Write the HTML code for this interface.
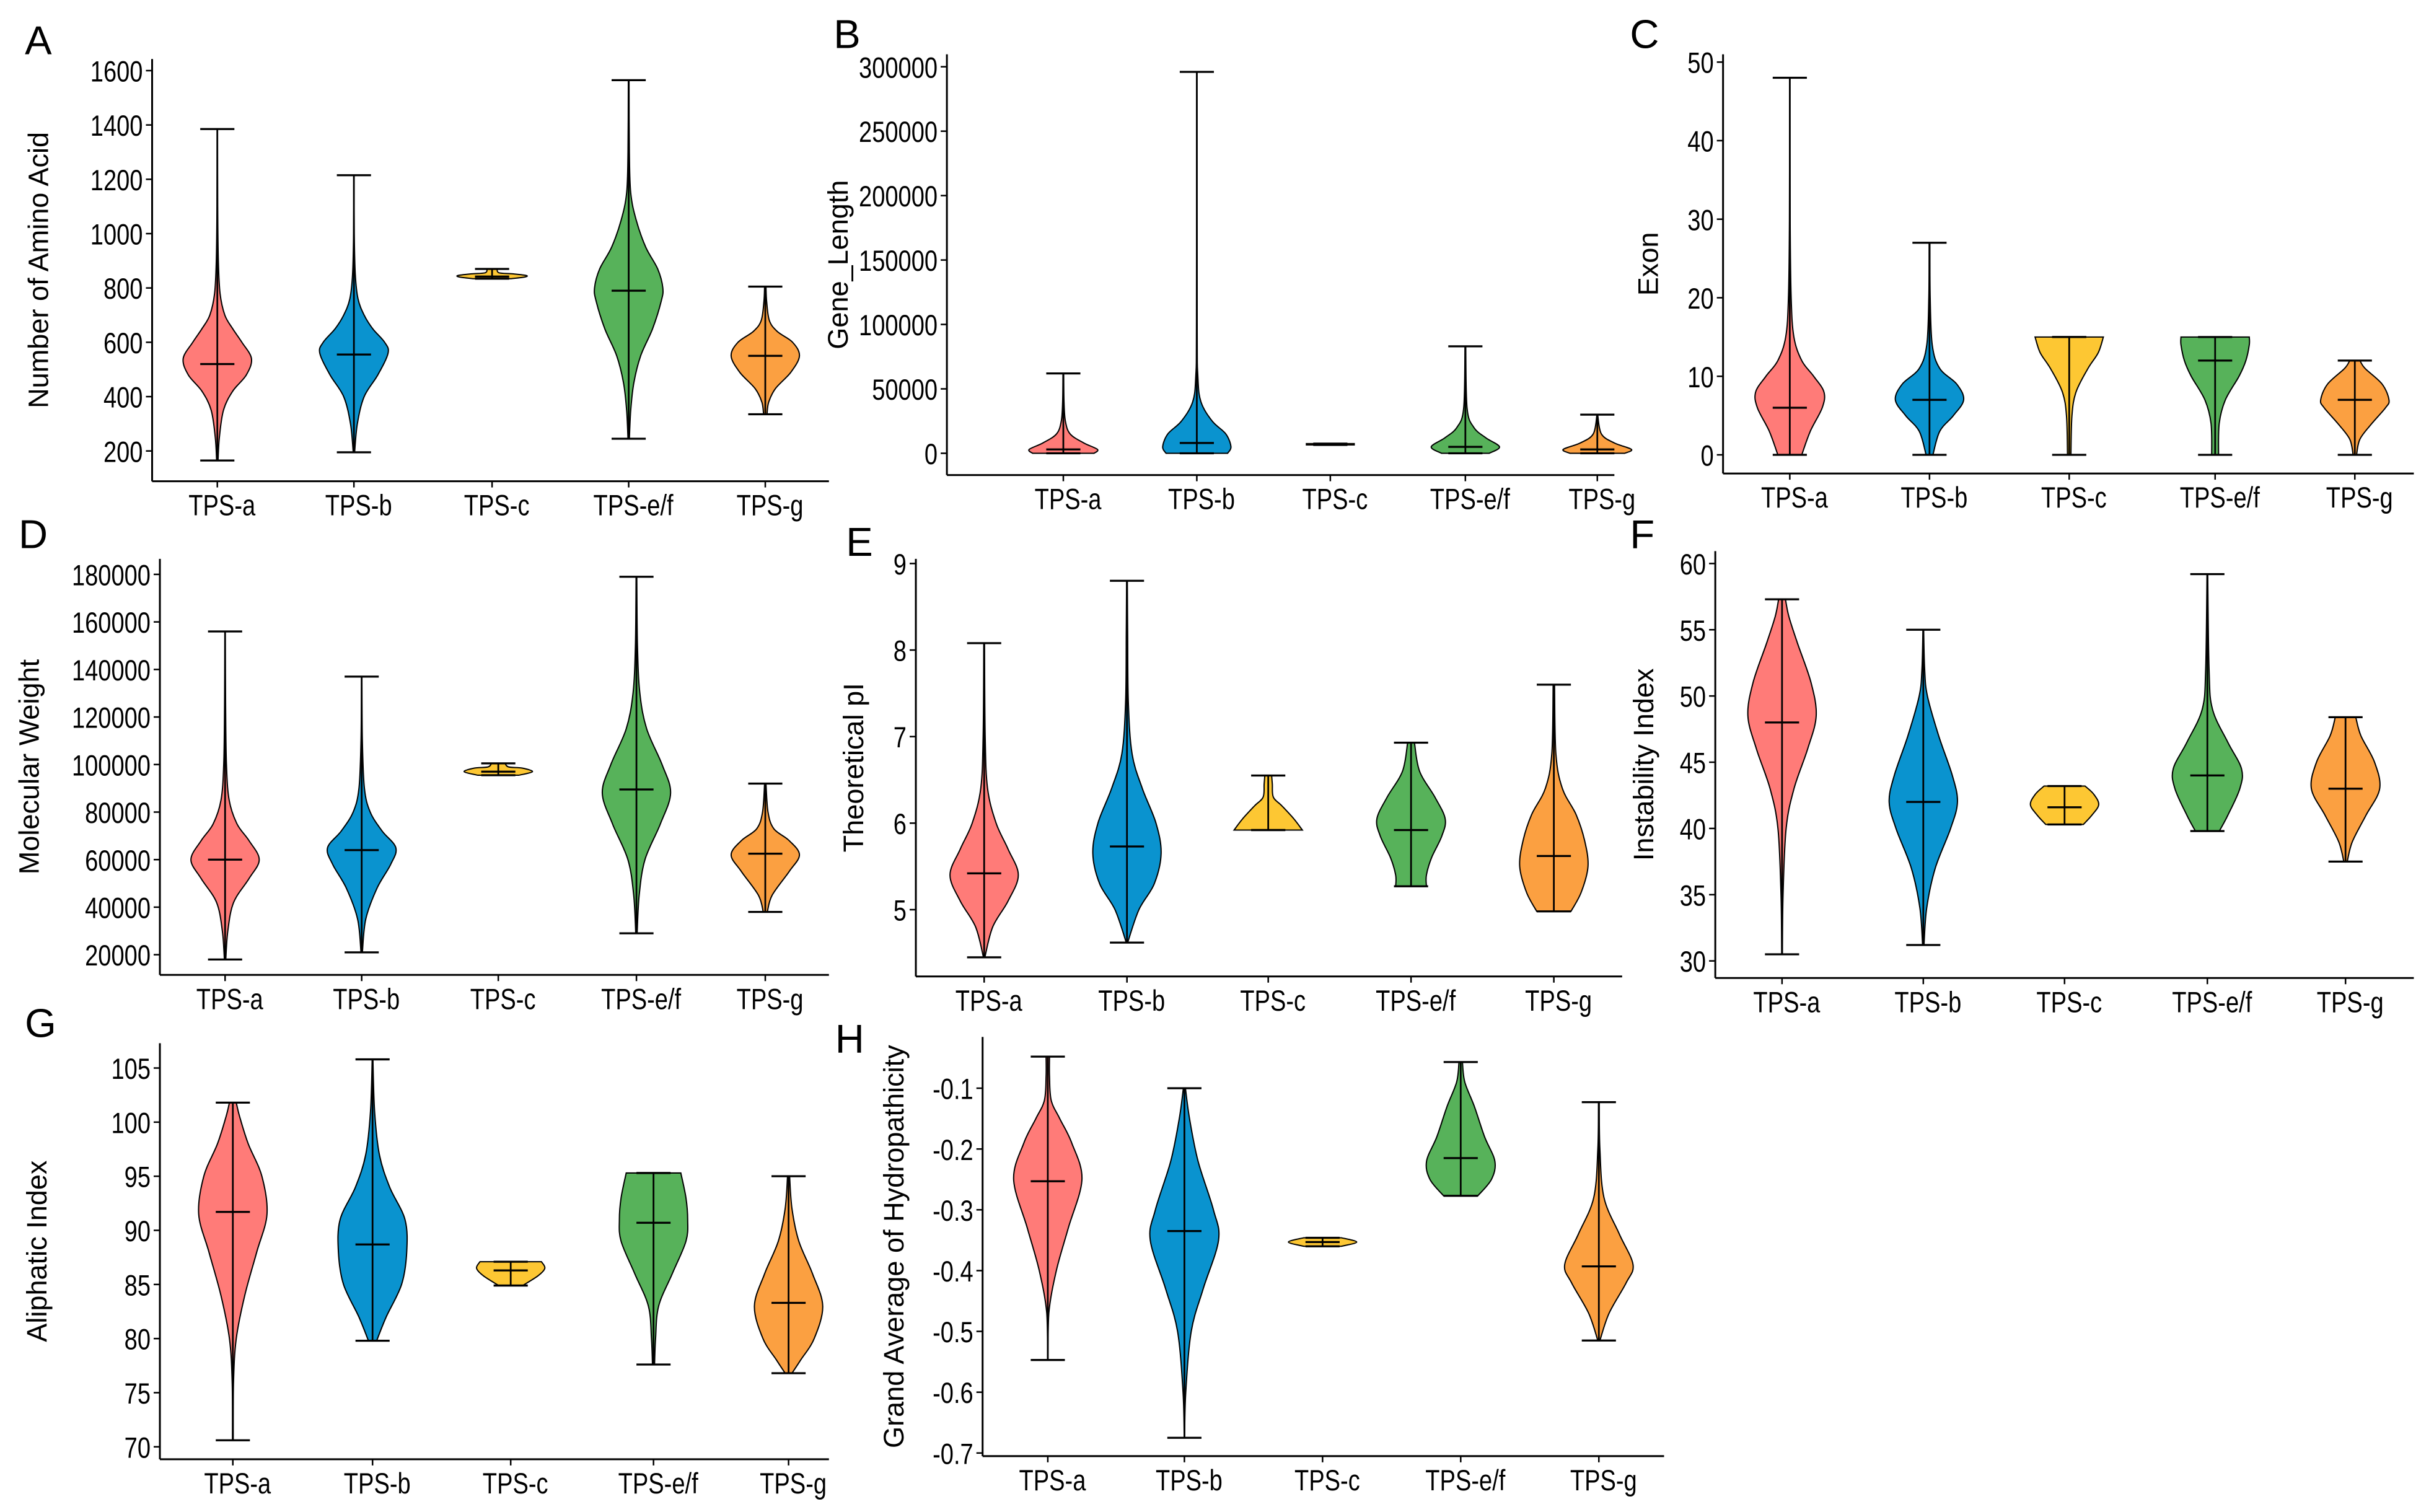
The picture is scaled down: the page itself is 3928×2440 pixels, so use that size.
<!DOCTYPE html>
<html><head><meta charset="utf-8"><style>
html,body{margin:0;padding:0;background:#fff}
svg{display:block}
text{font-family:"Liberation Sans",Arial,sans-serif;fill:#000}
</style></head><body>
<svg id="fig" width="3928" height="2440" viewBox="0 0 1568 974" preserveAspectRatio="none" xmlns="http://www.w3.org/2000/svg"></svg>
<script>
const categories = ["TPS-a","TPS-b","TPS-c","TPS-e/f","TPS-g"];
const colors = ["#FF7B78","#0A93CF","#FDC733","#57B25A","#FBA041"];

// A: Number of Amino Acid
const ticksA = [200,400,600,800,1000,1200,1400,1600];
const mediansA = [520,555,842,790,550];
const rangesA = [[165,1385],[195,1215],[834,870],[245,1565],[335,805]];
const densA = [
 [[165,0.02],[250,0.06],[350,0.18],[420,0.45],[480,0.85],[540,1],[600,0.72],[650,0.45],[700,0.22],[780,0.08],[900,0.03],[1100,0.01],[1385,0.005]],
 [[195,0.02],[300,0.1],[400,0.3],[480,0.7],[560,1],[600,0.9],[650,0.55],[700,0.3],[760,0.12],[850,0.04],[1000,0.01],[1215,0.005]],
 [[834,0.55],[840,0.95],[846,1],[852,0.6],[856,0.2],[870,0.15]],
 [[245,0.02],[350,0.06],[450,0.15],[550,0.35],[650,0.7],[750,0.95],[800,1],[870,0.85],[950,0.5],[1050,0.22],[1150,0.06],[1300,0.02],[1565,0.01]],
 [[335,0.05],[380,0.1],[430,0.3],[490,0.75],[550,1],[600,0.8],[640,0.35],[680,0.12],[750,0.04],[805,0.02]]
];
// B: Gene_Length
const ticksB = [0,50000,100000,150000,200000,250000,300000];
const mediansB = [3000,8000,7000,5000,3000];
const rangesB = [[0,62000],[0,296000],[6500,7500],[0,83000],[0,30000]];
const densB = [
 [[0,0.9],[3000,1],[8000,0.6],[15000,0.2],[25000,0.06],[40000,0.02],[62000,0.01]],
 [[0,0.9],[5000,1],[15000,0.85],[25000,0.45],[40000,0.12],[60000,0.03],[100000,0.01],[296000,0.005]],
 [[6500,0.7],[7500,0.7]],
 [[0,0.7],[5000,1],[12000,0.6],[20000,0.25],[35000,0.05],[83000,0.01]],
 [[0,0.8],[3000,1],[8000,0.5],[15000,0.12],[30000,0.01]]
];
// C: Exon
const ticksC = [0,10,20,30,40,50];
const mediansC = [6,7,15,12,7];
const rangesC = [[0,48],[0,27],[0,15],[0,15],[0,12]];
const densC = [
 [[0,0.35],[3,0.6],[6,0.95],[8,1],[10,0.7],[12,0.35],[15,0.12],[20,0.04],[30,0.01],[48,0.005]],
 [[0,0.1],[3,0.3],[5,0.7],[7,1],[9,0.8],[11,0.3],[14,0.08],[20,0.02],[27,0.01]],
 [[0,0.05],[5,0.08],[8,0.2],[11,0.55],[13,0.85],[15,1]],
 [[0,0.1],[4,0.12],[7,0.3],[10,0.7],[12,0.9],[14,1],[15,1]],
 [[0,0.05],[2,0.15],[4,0.5],[6,0.9],[7,1],[9,0.8],[11,0.3],[12,0.15]]
];
// D: Molecular Weight
const ticksD = [20000,40000,60000,80000,100000,120000,140000,160000,180000];
const mediansD = [60000,64000,97000,89500,62500];
const rangesD = [[18000,156000],[21000,137000],[95500,100500],[29000,179000],[38000,92000]];
const densD = [
 [[18000,0.02],[30000,0.08],[42000,0.25],[52000,0.7],[60000,1],[68000,0.7],[75000,0.35],[85000,0.12],[100000,0.04],[125000,0.015],[156000,0.005]],
 [[21000,0.02],[35000,0.12],[48000,0.45],[58000,0.85],[65000,1],[72000,0.6],[80000,0.25],[90000,0.08],[110000,0.02],[137000,0.005]],
 [[95500,0.6],[97000,1],[98500,0.7],[99000,0.3],[100500,0.2]],
 [[29000,0.02],[45000,0.08],[60000,0.25],[75000,0.7],[88000,1],[100000,0.75],[115000,0.3],[130000,0.1],[150000,0.03],[179000,0.01]],
 [[38000,0.06],[45000,0.2],[55000,0.7],[62000,1],[68000,0.7],[73000,0.25],[80000,0.08],[92000,0.02]]
];
// E: Theoretical pI
const ticksE = [5,6,7,8,9];
const mediansE = [5.42,5.73,5.92,5.92,5.62];
const rangesE = [[4.45,8.08],[4.62,8.8],[5.92,6.55],[5.27,6.93],[4.98,7.6]];
const densE = [
 [[4.45,0.02],[4.8,0.25],[5.1,0.7],[5.4,1],[5.7,0.7],[6.0,0.35],[6.4,0.1],[7,0.03],[8.08,0.01]],
 [[4.62,0.02],[5,0.35],[5.3,0.8],[5.65,1],[6,0.85],[6.4,0.45],[6.8,0.15],[7.4,0.04],[8.2,0.02],[8.8,0.01]],
 [[5.92,1],[6.05,0.75],[6.2,0.4],[6.3,0.15],[6.45,0.12],[6.55,0.1]],
 [[5.27,0.45],[5.4,0.45],[5.6,0.6],[5.85,0.9],[6.05,1],[6.3,0.7],[6.6,0.25],[6.93,0.1]],
 [[4.98,0.5],[5.2,0.8],[5.5,1],[5.8,0.9],[6.1,0.65],[6.4,0.25],[6.8,0.06],[7.6,0.02]]
];
// F: Instability Index
const ticksF = [30,35,40,45,50,55,60];
const mediansF = [48,42,41.6,44,43];
const rangesF = [[30.5,57.3],[31.2,55],[40.3,43.2],[39.8,59.2],[37.5,48.4]];
const densF = [
 [[30.5,0.01],[35,0.03],[40,0.12],[43,0.35],[46,0.75],[48.5,1],[51,0.85],[54,0.45],[56,0.2],[57.3,0.1]],
 [[31.2,0.02],[34,0.1],[37,0.35],[40,0.8],[42,1],[44,0.85],[47,0.45],[50,0.12],[52,0.04],[55,0.01]],
 [[40.3,0.55],[41,0.8],[41.8,1],[42.6,0.85],[43.2,0.6]],
 [[39.8,0.35],[41,0.6],[43,0.95],[44.5,1],[46.5,0.6],[49,0.15],[52,0.05],[59.2,0.01]],
 [[37.5,0.05],[39,0.2],[41,0.6],[43,1],[45,0.85],[47,0.45],[48.4,0.3]]
];
// G: Aliphatic Index
const ticksG = [70,75,80,85,90,95,100,105];
const mediansG = [91.7,88.7,86.3,90.7,83.3];
const rangesG = [[70.6,101.8],[79.8,105.8],[84.9,87.1],[77.6,95.3],[76.8,95]];
const densG = [
 [[70.6,0.01],[76,0.02],[80,0.1],[84,0.35],[88,0.7],[91.5,1],[95,0.85],[98,0.45],[100.5,0.2],[101.8,0.1]],
 [[79.8,0.12],[82,0.4],[85,0.85],[88,1],[91,0.95],[94,0.5],[97,0.2],[101,0.06],[105.8,0.01]],
 [[84.9,0.35],[85.8,0.8],[86.5,1],[87.1,0.9]],
 [[77.6,0.03],[80,0.06],[83,0.15],[86,0.55],[89,0.95],[91,1],[93,0.95],[95.3,0.8]],
 [[76.8,0.1],[78,0.35],[80,0.75],[83,1],[86,0.7],[89,0.3],[92,0.1],[95,0.03]]
];
// H: Grand Average of Hydropathicity
const ticksH = [-0.7,-0.6,-0.5,-0.4,-0.3,-0.2,-0.1];
const mediansH = [-0.253,-0.335,-0.353,-0.215,-0.393];
const rangesH = [[-0.547,-0.048],[-0.675,-0.1],[-0.36,-0.346],[-0.277,-0.057],[-0.515,-0.123]];
const densH = [
 [[-0.547,0.005],[-0.47,0.03],[-0.4,0.25],[-0.33,0.6],[-0.25,1],[-0.19,0.7],[-0.15,0.35],[-0.12,0.1],[-0.08,0.05],[-0.048,0.05]],
 [[-0.675,0.005],[-0.6,0.04],[-0.5,0.2],[-0.43,0.55],[-0.35,1],[-0.3,0.85],[-0.22,0.4],[-0.15,0.15],[-0.1,0.03]],
 [[-0.36,0.55],[-0.353,1],[-0.346,0.55]],
 [[-0.277,0.5],[-0.25,0.9],[-0.22,1],[-0.18,0.7],[-0.13,0.4],[-0.09,0.12],[-0.057,0.05]],
 [[-0.515,0.03],[-0.47,0.3],[-0.42,0.8],[-0.39,1],[-0.34,0.6],[-0.28,0.15],[-0.2,0.03],[-0.123,0.01]]
];

const NS = "http://www.w3.org/2000/svg";
const svg = document.getElementById("fig");
function mk(tag, attrs, parent){const e=document.createElementNS(NS,tag);for(const k in attrs)e.setAttribute(k,attrs[k]);(parent||svg).appendChild(e);return e;}

const panels = [
 {id:"a",letter:"A",lx:16,ly:35,ax:98,top:38,bot:310,right:534,v0:200,p0:290.5,v1:1600,p1:45.5,cx:[140,228,317,405,493],title:"Number of Amino Acid",tx:31,ticks:ticksA,med:mediansA,rng:rangesA,den:densA},
 {id:"b",letter:"B",lx:537,ly:31,ax:610,top:35,bot:306,right:1040,v0:0,p0:292,v1:300000,p1:43,cx:[685,771,857,944,1029],title:"Gene_Length",tx:546,ticks:ticksB,med:mediansB,rng:rangesB,den:densB},
 {id:"c",letter:"C",lx:1050,ly:31,ax:1110,top:35,bot:305,right:1555,v0:0,p0:293,v1:50,p1:40,cx:[1153,1243,1333,1427,1517],title:"Exon",tx:1068,ticks:ticksC,med:mediansC,rng:rangesC,den:densC},
 {id:"d",letter:"D",lx:12,ly:353,ax:103,top:360,bot:628,right:534,v0:20000,p0:615,v1:180000,p1:370,cx:[145,233,321,410,493],title:"Molecular Weight",tx:25,ticks:ticksD,med:mediansD,rng:rangesD,den:densD},
 {id:"e",letter:"E",lx:545,ly:358,ax:590,top:360,bot:629,right:1045,v0:5,p0:586,v1:9,p1:363,cx:[634,726,817,909,1001],title:"Theoretical pI",tx:556,ticks:ticksE,med:mediansE,rng:rangesE,den:densE},
 {id:"f",letter:"F",lx:1050,ly:353,ax:1105,top:355,bot:630,right:1555,v0:30,p0:619,v1:60,p1:363,cx:[1148,1239,1330,1422,1511],title:"Instability Index",tx:1065,ticks:ticksF,med:mediansF,rng:rangesF,den:densF},
 {id:"g",letter:"G",lx:16,ly:668,ax:103,top:672,bot:940,right:534,v0:70,p0:932,v1:105,p1:688,cx:[150,240,329,421,508],title:"Aliphatic Index",tx:30,ticks:ticksG,med:mediansG,rng:rangesG,den:densG},
 {id:"h",letter:"H",lx:538,ly:678,ax:633,top:668,bot:938,right:1072,v0:-0.7,p0:936,v1:-0.1,p1:701,cx:[675,763,852,941,1030],title:"Grand Average of Hydropathicity",tx:582,ticks:ticksH,med:mediansH,rng:rangesH,den:densH}
];

const HALF = 22, CAP = 11, SX = 0.8;

panels.forEach(P=>{
  const y = v => P.p0 + (v-P.v0)*(P.p1-P.p0)/(P.v1-P.v0);
  const g = mk("g",{});
  
  
  const L = mk("text",{x:P.lx,y:P.ly,"font-size":26},g); L.textContent=P.letter;
  
  
  const ya = mk("line",{x1:P.ax,y1:P.top,x2:P.ax,y2:P.bot,stroke:"#000","stroke-width":1.2},g);
  
  
  const xa = mk("line",{x1:P.ax,y1:P.bot,x2:P.right,y2:P.bot,stroke:"#000","stroke-width":1.2},g);
  
  
  P.ticks.forEach(t=>{
    const yy=y(t);
    mk("line",{x1:P.ax-4,y1:yy,x2:P.ax,y2:yy,stroke:"#000","stroke-width":1},g);
    const tt=mk("text",{x:0,y:0,"font-size":19,"text-anchor":"end",transform:`translate(${P.ax-6},${yy+7}) scale(${SX},1)`},g);
    tt.textContent = (P.id==="h") ? t.toFixed(1) : String(t);
    
    
  });
  const yt = mk("text",{x:P.tx,y:(P.top+P.bot)/2,"font-size":18,"text-anchor":"middle",transform:`rotate(-90 ${P.tx} ${(P.top+P.bot)/2})`},g);
  yt.textContent=P.title;
  
  
  categories.forEach((c,i)=>{
    const cx=P.cx[i];
    mk("line",{x1:cx,y1:P.bot,x2:cx,y2:P.bot+4,stroke:"#000","stroke-width":1},g);
    const ct=mk("text",{x:0,y:0,"font-size":19,"text-anchor":"middle",transform:`translate(${cx+3},${P.bot+22}) scale(${SX},1)`},g);
    ct.textContent=c;
    
    
    const d = P.den[i];
    const pts = d.map(k=>[y(k[0]), HALF*k[1]]);
    function side(sign, arr){
      let s="";
      for(let j=0;j<arr.length-1;j++){
        const p0=arr[Math.max(j-1,0)],p1=arr[j],p2=arr[j+1],p3=arr[Math.min(j+2,arr.length-1)];
        const c1y=p1[0]+(p2[0]-p0[0])/6, c1w=p1[1]+(p2[1]-p0[1])/6;
        const c2y=p2[0]-(p3[0]-p1[0])/6, c2w=p2[1]-(p3[1]-p1[1])/6;
        s+=` C${cx+sign*Math.max(c1w,0)},${c1y} ${cx+sign*Math.max(c2w,0)},${c2y} ${cx+sign*p2[1]},${p2[0]}`;
      }
      return s;
    }
    const rev = pts.slice().reverse();
    let path = `M${cx},${pts[0][0]} L${cx+pts[0][1]},${pts[0][0]}` + side(1,pts) + ` L${cx},${pts[pts.length-1][0]} L${cx-rev[0][1]},${rev[0][0]}` + side(-1,rev) + " Z";
    const v = mk("path",{d:path,fill:colors[i],stroke:"#000","stroke-width":0.8},g);
    
    
    const [mn,mx]=P.rng[i];
    const wl = mk("line",{x1:cx,y1:y(mn),x2:cx,y2:y(mx),stroke:"#000","stroke-width":1.1},g);
    
    
    [mn,mx].forEach(vv=>{
      const cp=mk("line",{x1:cx-CAP,y1:y(vv),x2:cx+CAP,y2:y(vv),stroke:"#000","stroke-width":1.3},g);
      
      
    });
    const md=mk("line",{x1:cx-CAP,y1:y(P.med[i]),x2:cx+CAP,y2:y(P.med[i]),stroke:"#000","stroke-width":1.3},g);
    
    
  });
});
</script>
</body></html>
